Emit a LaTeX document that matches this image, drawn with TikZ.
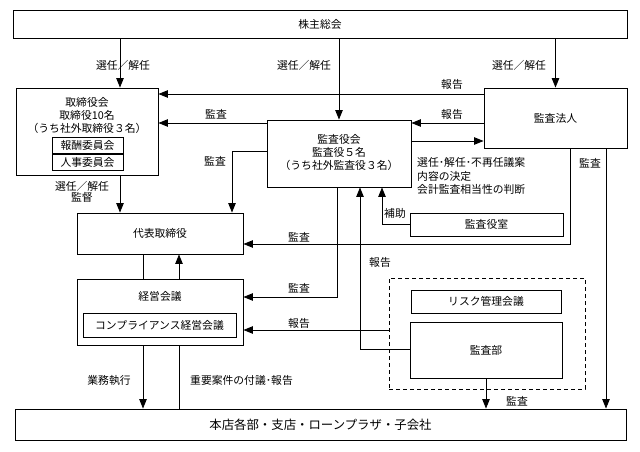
\documentclass[tikz,border=0pt]{standalone}
\usepackage{fontspec}
\setmainfont{Noto Sans CJK JP}
\usetikzlibrary{arrows.meta}
\newcommand\fs{\fontsize{10.8}{13}\selectfont}
\begin{document}
\begin{tikzpicture}[x=1pt,y=-1pt,
  bx/.style={draw,line width=0.9pt,inner sep=0pt,font=\fs},
  lbl/.style={inner sep=0pt,font=\fs},
  ln/.style={line width=0.9pt},
  arr/.style={line width=0.9pt,-{Triangle[length=9.5pt,width=7.5pt]}}]
\fill[white] (0,0) rectangle (640,452);
\useasboundingbox (0,0) rectangle (640,452);
% boxes
\node[bx,minimum width=614,minimum height=28] (top) at (320,24) {株主総会};
\node[bx,minimum width=142,minimum height=87] (tori) at (87,131.5) {};
\node[lbl] (toriA) at (87,102) {取締役会};
\node[lbl] (toriB) at (87,115) {取締役10名};
\node[lbl] (toriC) at (87,128) {（うち社外取締役３名）};
\node[bx,minimum width=71,minimum height=16] (hoshu) at (87.5,145) {報酬委員会};
\node[bx,minimum width=71,minimum height=16] (jinji) at (87.5,162) {人事委員会};
\node[bx,minimum width=143,minimum height=60] (hojin) at (555.5,118) {監査法人};
\node[bx,minimum width=144,minimum height=67] (kyk) at (339,153.5) {};
\node[lbl] (kykA) at (339,139) {監査役会};
\node[lbl] (kykB) at (339,152) {監査役５名};
\node[lbl] (kykC) at (339,165) {（うち社外監査役３名）};
\node[bx,minimum width=166,minimum height=41] (daihyo) at (160,233.5) {代表取締役};
\node[bx,minimum width=166,minimum height=66] (keiei) at (160,312) {};
\node[lbl] (keieiA) at (160,296) {経営会議};
\node[bx,minimum width=153,minimum height=24] (comp) at (159.5,325) {コンプライアンス経営会議};
\node[bx,minimum width=153,minimum height=23] (shitsu) at (486.5,224.5) {監査役室};
\node[draw,line width=0.9pt,dash pattern=on 4pt off 3pt,inner sep=0pt,minimum width=196,minimum height=111] (dash) at (487,333.5) {};
\node[bx,minimum width=150,minimum height=23] (risk) at (486,301.5) {リスク管理会議};
\node[bx,minimum width=152,minimum height=56] (kansabu) at (486,350) {監査部};
\node[bx,minimum width=611,minimum height=31,font=\fontsize{12.4}{14}\selectfont] (honten) at (320.5,424.5) {本店各部・支店・ローンプラザ・子会社};
% guide coordinates
\coordinate (cA) at (120,0);
\coordinate (cD) at (232,0);
\coordinate (cE) at (143,0);
\coordinate (cF) at (179,0);
\coordinate (cG) at (570,0);
\coordinate (cH) at (606,0);
\coordinate (cI) at (337,0);
\coordinate (cJ) at (360,0);
\coordinate (cK) at (382,0);
\coordinate (r94) at (0,94);
\coordinate (r123) at (0,123);
\coordinate (r141) at (0,141);
\coordinate (r151) at (0,151);
\coordinate (r244) at (0,244);
\coordinate (r297) at (0,297);
\coordinate (r330) at (0,330);
\coordinate (r349) at (0,349);
% connectors
\draw[arr] (top.south -| cA) -- (tori.north -| cA);
\draw[arr] (top.south -| kyk.north) -- (kyk.north);
\draw[arr] (top.south -| hojin.north) -- (hojin.north);
\draw[arr] (hojin.west |- r94) -- (tori.east |- r94);
\draw[arr] (hojin.west |- r123) -- (kyk.east |- r123);
\draw[arr] (kyk.east |- r141) -- (hojin.west |- r141);
\draw[arr] (kyk.west |- r123) -- (tori.east |- r123);
\draw[arr] (kyk.west |- r151) -| (daihyo.north -| cD);
\draw[arr] (tori.south -| cA) -- (daihyo.north -| cA);
\draw[ln] (daihyo.south -| cE) -- (keiei.north -| cE);
\draw[arr] (keiei.north -| cF) -- (daihyo.south -| cF);
\draw[arr] (hojin.south -| cG) |- (daihyo.east |- r244);
\draw[arr] (hojin.south -| cH) -- (honten.north -| cH);
\draw[arr] (kyk.south -| cI) |- (keiei.east |- r297);
\draw[arr] (dash.west |- r330) -- (keiei.east |- r330);
\draw[arr] (kansabu.west |- r349) -| (kyk.south -| cJ);
\draw[arr] (shitsu.west) -| (kyk.south -| cK);
\draw[arr] (kansabu.south) -- (honten.north -| kansabu.south);
\draw[arr] (keiei.south -| cE) -- (honten.north -| cE);
\draw[ln] (keiei.south -| cF) -- (honten.north -| cF);
% labels
\node[lbl] (l1) at (123,65) {選任／解任};
\node[lbl] (l2) at (304,65) {選任／解任};
\node[lbl] (l3) at (519,65) {選任／解任};
\node[lbl] (l4) at (452,84) {報告};
\node[lbl] (l5) at (452,114) {報告};
\node[lbl] (l6) at (216,114) {監査};
\node[lbl] (l7) at (215,161) {監査};
\node[lbl,align=center,font=\fontsize{10.8}{11}\selectfont] (l8) at (82,192) {選任／解任\\監督};
\node[lbl] (l9) at (395,213) {補助};
\node[lbl,anchor=west] (l10) at (417,162) {選任･解任･不再任議案};
\node[lbl,anchor=west] (l11) at (417,176) {内容の決定};
\node[lbl,anchor=west] (l12) at (417,189) {会計監査相当性の判断};
\node[lbl] (l13) at (590,163) {監査};
\node[lbl] (l14) at (299,237) {監査};
\node[lbl] (l15) at (299,288) {監査};
\node[lbl] (l16) at (299,323) {報告};
\node[lbl] (l17) at (380,262) {報告};
\node[lbl] (l18) at (517,401) {監査};
\node[lbl] (l19) at (109,380) {業務執行};
\node[lbl,anchor=west] (l20) at (190,380) {重要案件の付議･報告};
\end{tikzpicture}
\end{document}
